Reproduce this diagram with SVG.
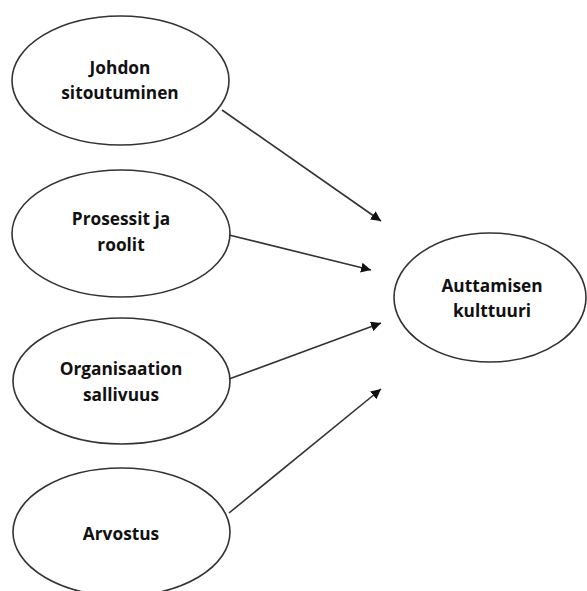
<svg xmlns="http://www.w3.org/2000/svg" width="587" height="591" viewBox="0 0 587 591">
<defs>
<marker id="ah" viewBox="0 0 10 10" refX="10" refY="5" markerWidth="10" markerHeight="10" markerUnits="userSpaceOnUse" orient="auto">
<path d="M0,0 L10,5 L0,10 Z" fill="#111"/>
</marker>
<style>
.n{fill:#fff;stroke:#333;stroke-width:1.6}
.t{font-family:"Open Sans","Liberation Sans",sans-serif;font-weight:700;font-size:17.3px;fill:#111;text-anchor:middle}
.c{stroke:#333;stroke-width:1.6;fill:none;marker-end:url(#ah)}
</style>
</defs>
<rect width="587" height="591" fill="#fff"/>
<g id="n1"><ellipse class="n" cx="120.5" cy="80.5" rx="108.5" ry="64.5"/><text class="t" x="120" y="74">Johdon</text><text class="t" x="120" y="99">sitoutuminen</text></g>
<g id="n2"><ellipse class="n" cx="121" cy="233.5" rx="109" ry="63.5"/><text class="t" x="121" y="225">Prosessit ja</text><text class="t" x="121" y="251">roolit</text></g>
<g id="n3"><ellipse class="n" cx="121.5" cy="381" rx="108.5" ry="63"/><text class="t" x="121" y="375">Organisaation</text><text class="t" x="121" y="401">sallivuus</text></g>
<g id="n4"><ellipse class="n" cx="121.5" cy="532" rx="108.5" ry="64"/><text class="t" x="121" y="540">Arvostus</text></g>
<g id="n5"><ellipse class="n" cx="490" cy="297.5" rx="96" ry="64.5"/><text class="t" x="492" y="291.5">Auttamisen</text><text class="t" x="492" y="316.5">kulttuuri</text></g>
<g id="connectors">
<line class="c" x1="222" y1="110" x2="381" y2="221"/>
<line class="c" x1="229" y1="235" x2="371" y2="270"/>
<line class="c" x1="229" y1="379" x2="381" y2="323"/>
<line class="c" x1="229" y1="513" x2="381" y2="389"/>
</g>
</svg>
